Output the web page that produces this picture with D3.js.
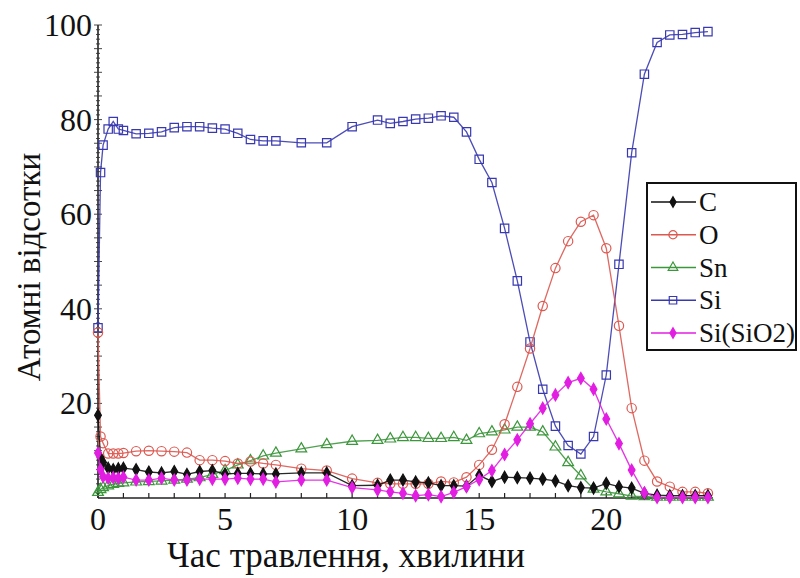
<!DOCTYPE html>
<html>
<head>
<meta charset="utf-8">
<script src="https://cdn.jsdelivr.net/npm/d3@7"></script>
</head>
<body style="margin:0;background:#fff">
<svg id="chart" width="800" height="578" style="display:block"></svg>
<script>
// Etching time, minutes (shared by every series)
const minutes = [0, 0.1, 0.2, 0.4, 0.6, 0.8, 1, 1.5, 2, 2.5, 3, 3.5, 4, 4.5, 5, 5.5, 6, 6.5, 7,
  8, 9, 10, 11, 11.5, 12, 12.5, 13, 13.5, 14, 14.5, 15, 15.5, 16, 16.5, 17, 17.5, 18, 18.5,
  19, 19.5, 20, 20.5, 21, 21.5, 22, 22.5, 23, 23.5, 24];

// Atomic percentages per element
const carbon = [17.5, 8.5, 7.5, 6.3, 6.0, 6.2, 6.3, 6.0, 5.5, 5.3, 5.6, 5.0, 5.6, 5.8, 5.1, 5.2, 5.2, 5.1, 5.1,
  5.3, 5.3, 2.6, 2.7, 3.8, 3.8, 3.4, 3.2, 2.6, 2.6, 2.5, 4.8, 3.5, 4.4, 4.3, 4.2, 4.0, 3.6, 2.6,
  2.2, 2.1, 3.1, 2.4, 2.1, 1.0, 0.6, 0.5, 0.5, 0.5, 0.5];
const oxygen = [35, 13, 11.6, 9.4, 9.4, 9.4, 9.5, 9.9, 10, 9.9, 9.8, 9.6, 8.0, 8.0, 7.8, 7.3, 7.7, 7.3, 7.0,
  6.2, 5.8, 4.1, 3.2, 3.0, 3.0, 3.0, 3.0, 3.5, 3.3, 4.4, 7.0, 10.2, 15.6, 23.5, 31.6, 40.6, 48.6, 54.3,
  58.4, 59.8, 52.8, 36.4, 19.0, 7.9, 3.5, 2.4, 1.3, 1.3, 1.0];
const tin = [1.2, 1.8, 2.2, 2.6, 2.9, 3.1, 3.2, 3.4, 3.5, 3.6, 3.8, 4.0, 4.3, 5.0, 5.8, 7.0, 7.9, 8.9, 9.5,
  10.4, 11.3, 12.0, 12.2, 12.5, 12.8, 12.8, 12.6, 12.6, 12.8, 12.2, 13.6, 14.0, 14.4, 15.0, 15.0, 14.0, 10.8, 7.5,
  4.7, 1.9, 1.3, 0.9, 0.4, 0.3, 0.2, 0.2, 0.2, 0.2, 0.2];
const silicon = [36, 68.8, 74.6, 78, 79.6, 78, 77.7, 77, 77.1, 77.4, 78.3, 78.5, 78.5, 78.2, 78, 77.1, 75.8, 75.5, 75.5,
  75.1, 75.1, 78.5, 79.9, 79.2, 79.6, 80.1, 80.3, 80.8, 80.5, 77.4, 71.6, 66.7, 57, 45.9, 33, 23, 15.2, 11.1,
  9.3, 13, 26, 49.4, 73, 89.6, 96.3, 97.9, 98, 98.4, 98.6];
const siliconOxide = [9.5, 6.0, 4.5, 4.2, 4.3, 4.2, 4.4, 3.8, 3.8, 4.2, 3.8, 3.8, 4.0, 4.0, 4.0, 4.2, 4.0, 4.0, 3.4,
  3.8, 3.8, 2.2, 1.7, 1.3, 1.0, 0.5, 0.7, 0.3, 1.2, 2.4, 3.9, 5.8, 9.2, 12.3, 15.7, 19.0, 21.8, 24.4,
  25.3, 23.0, 16.7, 11.5, 5.9, 1.1, 0.1, 0.1, 0.1, 0.1, 0.1];

const seriesNames = ["C", "O", "Sn", "Si", "Si(SiO2)"];
const xTickLabels = [0, 5, 10, 15, 20];
const yTickLabels = [20, 40, 60, 80, 100];

const FONT = "'Liberation Serif', monospace";

const series = [
  { name: "C", values: carbon, color: "#111111", symbol: d3.symbolDiamond, size: 40, fill: true },
  { name: "O", values: oxygen, color: "#dc5850", symbol: d3.symbolCircle, size: 68, fill: false },
  { name: "Sn", values: tin, color: "#3c963c", symbol: d3.symbolTriangle, size: 50, fill: false },
  { name: "Si", values: silicon, color: "#3838b0", symbol: d3.symbolSquare, size: 70, fill: false },
  { name: "Si(SiO2)", values: siliconOxide, color: "#e21ee2", symbol: d3.symbolDiamond, size: 40, fill: true }
];

const svg = d3.select("#chart");
const x = d3.scaleLinear().domain([0, 24.2]).range([98, 713]);
const y = d3.scaleLinear().domain([0, 100]).range([498, 25]);

// Axes
const axes = svg.append("g");
axes.append("line").attr("x1", x(0)).attr("x2", x(24.2)).attr("y1", y(0)).attr("y2", y(0))
  .attr("stroke", "#222").attr("stroke-width", 1.6);
axes.append("line").attr("x1", x(0)).attr("x2", x(0)).attr("y1", y(0)).attr("y2", y(100))
  .attr("stroke", "#222").attr("stroke-width", 1.6);

// x ticks every minute, pointing into the plot
axes.selectAll(".xt").data(d3.range(0, 25)).join("line")
  .attr("x1", d => x(d)).attr("x2", d => x(d))
  .attr("y1", y(0)).attr("y2", y(0) - 5)
  .attr("stroke", "#222").attr("stroke-width", 1.2);
// y ticks: minor every unit, major every five
axes.selectAll(".yt").data(d3.range(1, 101)).join("line")
  .attr("x1", d => x(0) - (d % 5 === 0 ? 4 : 2))
  .attr("x2", d => x(0) + (d % 5 === 0 ? 4 : 2))
  .attr("y1", d => y(d)).attr("y2", d => y(d))
  .attr("stroke", "#333").attr("stroke-width", 0.9);

axes.selectAll(".xl").data(xTickLabels).join("text")
  .attr("font-family", FONT)
  .attr("x", d => x(d)).attr("y", 530)
  .attr("text-anchor", "middle").attr("font-size", 32).attr("fill", "#111").text(d => d);
axes.selectAll(".yl").data(yTickLabels).join("text")
  .attr("font-family", FONT)
  .attr("x", 92).attr("y", d => y(d) + 11)
  .attr("text-anchor", "end").attr("font-size", 32).attr("fill", "#111").text(d => d);

// Axis titles
svg.append("text").attr("x", 346).attr("y", 567)
  .attr("font-family", FONT).attr("fill", "#111")
  .attr("text-anchor", "middle").attr("font-size", 35)
  .text("Час травлення, хвилини");
svg.append("text").attr("transform", "translate(40,267) rotate(-90)")
  .attr("font-family", FONT).attr("fill", "#111")
  .attr("text-anchor", "middle").attr("font-size", 33)
  .text("Атомні відсотки");

// Series lines and markers
const drawOrder = ["Si", "Sn", "O", "C", "Si(SiO2)"];
const plot = svg.append("g");
drawOrder.forEach(name => {
  const s = series.find(d => d.name === name);
  const pts = minutes.map((t, i) => [t, s.values[i]]);
  const line = d3.line().x(d => x(d[0])).y(d => y(d[1]));
  plot.append("path").attr("d", line(pts))
    .attr("fill", "none").attr("stroke", s.color).attr("stroke-width", 1.3).attr("stroke-opacity", 0.9);
  plot.append("g").selectAll("path").data(pts).join("path")
    .attr("transform", d => `translate(${x(d[0])},${y(d[1])})`)
    .attr("d", d3.symbol().type(s.symbol).size(s.size))
    .attr("fill", s.fill ? s.color : "none")
    .attr("stroke", s.color).attr("stroke-width", 1.2);
});

// Legend
const legend = svg.append("g");
legend.append("rect").attr("x", 647).attr("y", 183).attr("width", 149).attr("height", 167)
  .attr("fill", "#fff").attr("stroke", "#111").attr("stroke-width", 2);
const rowY = d3.scalePoint().domain(seriesNames).range([202, 333]);
seriesNames.forEach(name => {
  const s = series.find(d => d.name === name);
  const g = legend.append("g").attr("transform", `translate(0,${rowY(name)})`);
  g.append("line").attr("x1", 651).attr("x2", 696).attr("y1", 0).attr("y2", 0)
    .attr("stroke", s.color).attr("stroke-width", 1.6);
  g.append("path").attr("transform", "translate(673,0)")
    .attr("d", d3.symbol().type(s.symbol).size(s.size * 0.8))
    .attr("fill", s.fill ? s.color : "none").attr("stroke", s.color).attr("stroke-width", 1.2);
  g.append("text").attr("x", 699).attr("y", 9)
    .attr("font-family", FONT).attr("fill", "#111")
    .attr("font-size", 27).text(name);
});
</script>
</body>
</html>
